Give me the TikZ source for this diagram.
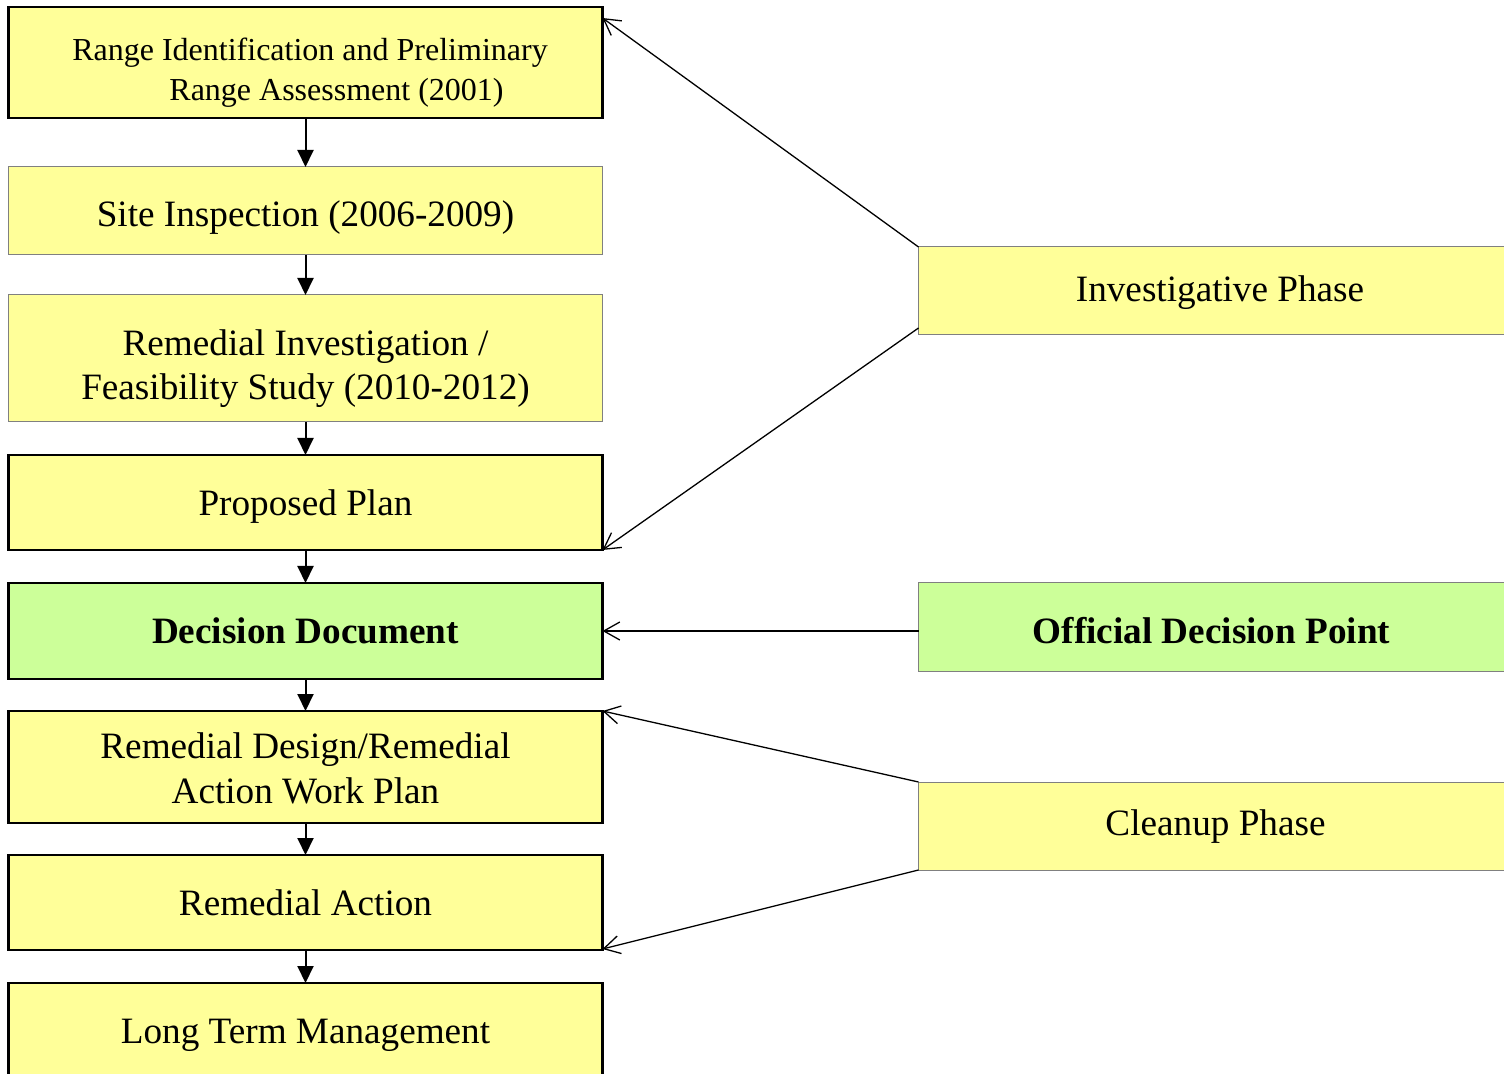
\documentclass[tikz,border=0pt]{standalone}
\usepackage{fontspec}
\setmainfont{Liberation Serif}
\usetikzlibrary{arrows.meta}

\definecolor{phaseyellow}{RGB}{255,255,153}
\definecolor{pointgreen}{RGB}{204,255,153}

\tikzset{
	stage/.style={draw, line width=1.2pt, fill=phaseyellow, minimum width=297pt,
		inner sep=0pt, outer sep=0pt, align=center, text depth=0pt,
		font=\fontsize{18.6}{21.5}\selectfont},
	stagethin/.style={stage, draw=gray, line width=0.5pt},
	flow/.style={line width=1pt, -{Triangle[length=8.5pt,width=8pt]}},
	pointer/.style={line width=0.65pt, -{Straight Barb[length=8pt,width=9pt]}}
}

\begin{document}
\begin{tikzpicture}[x=0.5pt,y=-0.5pt]
		\useasboundingbox (0,0) rectangle (1504,1074);
		% left column
		\node[stage, minimum height=55.5pt, text height=38.2pt, font=\fontsize{16}{20}\selectfont] (range) at (305.5,62.5)
			{\hspace*{4.5pt}Range Identification and Preliminary\\\hspace*{31pt}Range Assessment (2001)};
		\node[stagethin, minimum height=44pt, text height=15.7pt] (site) at (305.5,211) {Site Inspection (2006-2009)};
		\node[stagethin, minimum height=63.5pt, text height=41.5pt, font=\fontsize{18.6}{22}\selectfont] (rifs) at (305.5,358.5)
			{Remedial Investigation /\\Feasibility Study (2010-2012)};
		\node[stage, minimum height=47.5pt, text height=13.5pt] (plan) at (305.5,502.5) {Proposed Plan};
		\node[stage, minimum height=48pt, text height=12.3pt, fill=pointgreen, font=\fontsize{18.6}{21.5}\selectfont\bfseries] (decision) at (305.5,631)
			{Decision Document};
		\node[stage, minimum height=56pt, text height=36pt, font=\fontsize{18.6}{22.5}\selectfont] (design) at (305.5,767)
			{Remedial Design/Remedial\\Action Work Plan};
		\node[stage, minimum height=47.5pt, text height=12.5pt] (action) at (305.5,902.5) {Remedial Action};
		\node[stage, minimum height=49pt, text height=11pt] (ltm) at (305.5,1032) {Long Term Management};
		% right column
		\node[stagethin, minimum height=44pt, text height=10.7pt] (investigative) at (1215.5,291) {\hspace*{4.5pt}Investigative Phase};
		\node[stagethin, minimum height=44pt, text height=16.3pt, fill=pointgreen, font=\fontsize{18.6}{21.5}\selectfont\bfseries] (official) at (1215.5,627)
			{Official Decision Point\hspace*{4pt}};
		\node[stagethin, minimum height=44pt, text height=9pt] (cleanup) at (1215.5,826) {Cleanup Phase};
		%
		\draw[flow] (range) -- (site);
		\draw[flow] (site) -- (rifs);
		\draw[flow] (rifs) -- (plan);
		\draw[flow] (plan) -- (decision);
		\draw[flow] (decision) -- (design);
		\draw[flow] (design) -- (action);
		\draw[flow] (action) -- (ltm);
		%
		\draw[pointer] (investigative.north west) -- ([yshift=-5.5pt]range.north east);
		\draw[pointer] ([yshift=3.5pt]investigative.south west) -- (plan.south east);
		\draw[pointer] (official.west |- decision.east) -- (decision.east);
		\draw[pointer] (cleanup.north west) -- (design.north east);
		\draw[pointer] (cleanup.south west) -- ([yshift=0.5pt]action.south east);
\end{tikzpicture}
\end{document}
